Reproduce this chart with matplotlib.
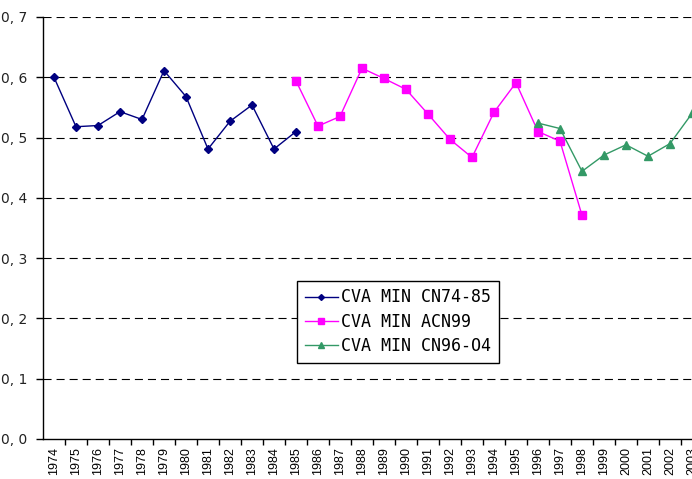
import matplotlib
matplotlib.use("Agg")
import matplotlib.pyplot as plt
import numpy as np

# categories (the chart is cut off on the right, last year only half shown)
years = [str(y) for y in range(1974, 2004)]

# series values
cn74_85 = [0.600, 0.518, 0.520, 0.543, 0.530, 0.611, 0.568, 0.481, 0.527,
           0.554, 0.481, 0.510]
acn99 = [0.594, 0.519, 0.535, 0.615, 0.598, 0.580, 0.539, 0.497, 0.467,
         0.542, 0.591, 0.510, 0.494, 0.371]
cn96_04 = [0.524, 0.515, 0.444, 0.471, 0.488, 0.469, 0.490, 0.540]

series = [
    ("CVA MIN CN74-85", "1974", cn74_85, "D", "#000080", 4),
    ("CVA MIN ACN99", "1985", acn99, "s", "#FF00FF", 5.5),
    ("CVA MIN CN96-O4", "1996", cn96_04, "^", "#339966", 5.5),
]

yticks = [0.0, 0.1, 0.2, 0.3, 0.4, 0.5, 0.6, 0.7]

plt.rcParams["lines.scale_dashes"] = False

fig = plt.figure(figsize=(6.92, 4.79), dpi=100)
# axes runs past the right edge on purpose, like the original screenshot
ax = fig.add_axes([43 / 692, 1 - 439 / 479, 660 / 692, 422 / 479])

for label, start, vals, mk, col, ms in series:
    i0 = years.index(start)
    x = np.arange(i0, i0 + len(vals))
    ax.plot(x, vals, color=col, lw=1, marker=mk, ms=ms, mec=col, mfc=col,
            label=label, clip_on=True)

ax.set_xlim(-0.5, len(years) - 0.5)
ax.set_ylim(0, 0.7)

ax.set_yticks(yticks)
ax.set_yticklabels([f"{v:.1f}".replace(".", ", ") for v in yticks],
                   fontsize=10, color="#222222")
for v in yticks[1:]:
    ax.axhline(v, color="black", lw=0.8, dashes=(5.8, 3.6), zorder=0)

ax.set_xticks(np.arange(len(years)))
ax.set_xticklabels(years, rotation=90, fontsize=9, family="Liberation Sans")
ax.set_xticks(np.arange(len(years)) + 0.5, minor=True)
ax.tick_params(axis="x", which="major", length=0, pad=6)
ax.tick_params(axis="x", which="minor", length=4, width=1, direction="out")
ax.tick_params(axis="y", length=5, width=1, direction="out", pad=6)

for s in ["top", "right"]:
    ax.spines[s].set_visible(False)
for s in ["left", "bottom"]:
    ax.spines[s].set_linewidth(1)
    ax.spines[s].set_color("black")

leg = ax.legend(loc="upper left", bbox_to_anchor=(297 / 692, 1 - 281 / 479),
                bbox_transform=fig.transFigure, fancybox=False,
                prop={"family": "DejaVu Sans Mono", "size": 12},
                handlelength=2.0, handletextpad=0.2, labelspacing=0.38,
                borderpad=0.45, borderaxespad=0, markerscale=0.75,
                framealpha=1)
leg.get_frame().set_edgecolor("black")
leg.get_frame().set_linewidth(1)

fig.savefig("out.png", dpi=100)
